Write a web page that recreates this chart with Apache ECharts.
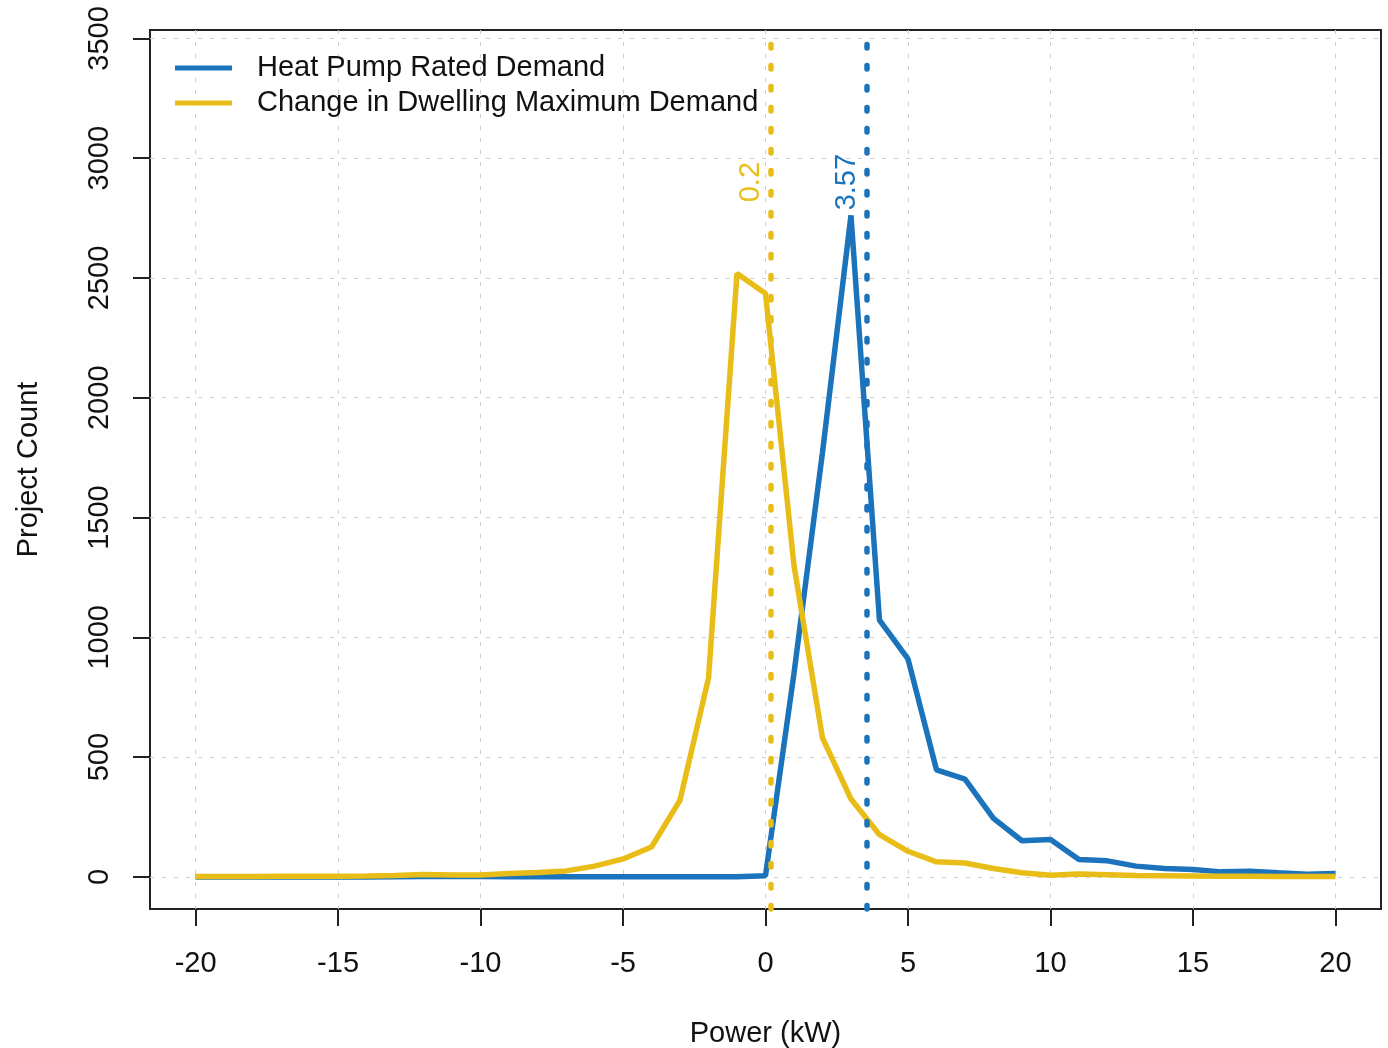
<!DOCTYPE html>
<html>
<head>
<meta charset="utf-8">
<script src="https://cdn.jsdelivr.net/npm/echarts@6/dist/echarts.min.js"></script>
<style>html,body{margin:0;padding:0;background:#fff;}#chart{width:1388px;height:1048px;}</style>
</head>
<body>
<div id="chart"></div>
<script>
// ---- data ----
const powerKW = [-20,-19,-18,-17,-16,-15,-14,-13,-12,-11,-10,-9,-8,-7,-6,-5,-4,-3,-2,-1,0,1,2,3,4,5,6,7,8,9,10,11,12,13,14,15,16,17,18,19,20];
const heatPumpRated = [0,0,0,0,0,0,0,1,2,2,2,1,1,1,1,1,1,1,1,1,5,850,1772,2761,1072,910,447,408,244,151,156,73,67,45,35,31,21,24,17,11,14];
const changeDwellingMax = [2,2,2,3,3,3,4,6,10,8,8,14,18,25,45,75,125,320,830,2519,2435,1300,580,325,176,107,63,58,35,17,7,12,9,6,5,4,3,3,2,2,2];
const hpMedian = 3.57;
const dmMedian = 0.2;
const xTicks = [-20,-15,-10,-5,0,5,10,15,20];
const yTicks = [0,500,1000,1500,2000,2500,3000,3500];
const seriesNames = ['Heat Pump Rated Demand','Change in Dwelling Maximum Demand'];

// ---- chart ----
const BLUE = '#1b74bb';
const YELLOW = '#e9bd17';
const FONT = 'Liberation Sans, Arial, Helvetica, sans-serif';
const FS = 29;
const LABEL_Y = 2900;

const pairs = (xs, ys) => xs.map((x, i) => [x, ys[i]]);

const chart = echarts.init(document.getElementById('chart'), null, {renderer: 'canvas'});
chart.setOption({
  animation: false,
  backgroundColor: '#fff',
  textStyle: {fontFamily: FONT},
  grid: {left: 150, right: 7, top: 30, bottom: 139, show: true, borderColor: '#222', borderWidth: 2,
    containLabel: false, outerBoundsMode: 'none'},
  legend: {
    data: seriesNames,
    orient: 'vertical',
    left: 170, top: 48,
    itemWidth: 57, itemHeight: 5,
    itemGap: 5,
    icon: 'rect',
    textStyle: {fontSize: FS, color: '#111', fontFamily: FONT, lineHeight: 30, padding: [0, 0, 0, 20]}
  },
  xAxis: {
    type: 'value', min: -21.6, max: 21.6, z: 3,
    axisLine: {show: false, onZero: false},
    axisTick: {show: true, length: 17, lineStyle: {color: '#222', width: 2}, customValues: xTicks},
    axisLabel: {customValues: xTicks, fontSize: FS, color: '#111', margin: 40, fontFamily: FONT},
    splitLine: {show: true, lineStyle: {type: [4, 8], color: '#cfcfcf', width: 1}},
    name: 'Power (kW)', nameLocation: 'middle', nameGap: 110,
    nameTextStyle: {fontSize: FS, color: '#111', fontFamily: FONT}
  },
  yAxis: {
    type: 'value', min: -134, max: 3535, z: 3,
    axisLine: {show: false, onZero: false},
    axisTick: {show: true, length: 17, lineStyle: {color: '#222', width: 2}, customValues: yTicks},
    axisLabel: {customValues: yTicks, fontSize: FS, color: '#111', margin: 36, rotate: 90, fontFamily: FONT,
      formatter: v => String(v)},
    splitLine: {show: true, lineStyle: {type: [4, 8], color: '#cfcfcf', width: 1}},
    name: 'Project Count', nameLocation: 'middle', nameGap: 107, nameRotate: 90,
    nameTextStyle: {fontSize: FS, color: '#111', fontFamily: FONT}
  },
  series: [
    {
      name: seriesNames[0], type: 'line', data: pairs(powerKW, heatPumpRated),
      showSymbol: false, symbol: 'none', color: BLUE,
      lineStyle: {color: BLUE, width: 5.5},
      markLine: {
        silent: true, symbol: ['none', 'none'], label: {show: false},
        lineStyle: {color: BLUE, width: 5.5, type: [3.5, 17.5], cap: 'round', opacity: 1},
        emphasis: {disabled: true},
        data: [{xAxis: hpMedian}]
      }
    },
    {
      name: seriesNames[1], type: 'line', data: pairs(powerKW, changeDwellingMax),
      showSymbol: false, symbol: 'none', color: YELLOW,
      lineStyle: {color: YELLOW, width: 5.5},
      markLine: {
        silent: true, symbol: ['none', 'none'], label: {show: false},
        lineStyle: {color: YELLOW, width: 5.5, type: [3.5, 17.5], cap: 'round', opacity: 1},
        emphasis: {disabled: true},
        data: [{xAxis: dmMedian}]
      }
    },
    {
      type: 'scatter', symbolSize: 0, silent: true, z: 5,
      data: [
        {value: [dmMedian, LABEL_Y], label: {formatter: String(dmMedian), color: YELLOW}},
        {value: [hpMedian, LABEL_Y], label: {formatter: String(hpMedian), color: BLUE}}
      ],
      label: {show: true, position: 'left', distance: 20, rotate: 90, align: 'center', verticalAlign: 'middle',
        fontSize: FS, fontFamily: FONT, textBorderWidth: 0, opacity: 1}
    }
  ]
});
</script>
</body>
</html>
